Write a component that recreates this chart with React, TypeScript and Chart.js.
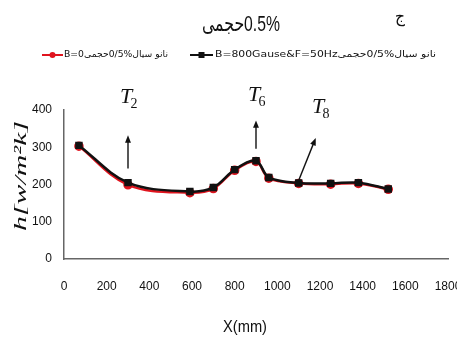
import React, { useEffect, useRef } from "react";
import { Chart, registerables } from "chart.js";

Chart.register(...registerables);

// ---------- data ----------
const positionsMm = [70, 300, 590, 700, 800, 900, 960, 1100, 1250, 1380, 1520];
const hNoField = [303, 199, 178, 189, 238, 262, 217, 203, 201, 203, 187];
const hWithField = [305, 205, 181, 192, 240, 264, 219, 204, 203, 205, 188];
const xTickValues = [0, 200, 400, 600, 800, 1000, 1200, 1400, 1600, 1800];
const yTickValues = [0, 100, 200, 300, 400];

const titleText = "0.5%حجمی";
const cornerLabel = "ج";
const legendNoField = "نانو سیال%0/5حجمیB=0";
const legendWithField = "نانو سیال%0/5حجمیB=800Gause&F=50Hz";
const xAxisTitle = "X(mm)";
const yAxisTitle = "h[w/m²k]";

// annotation labels (T_n) with arrows, in data units
const annotationNames = ["2", "6", "8"];
const annotationTextX = [300, 900, 1200];
const annotationTextY = [436, 440, 408];
const annotationFromX = [300, 900, 1100];
const annotationFromY = [243, 296, 211];
const annotationToX = [300, 900, 1180];
const annotationToY = [332, 372, 325];

const SANS = "'Liberation Sans', 'DejaVu Sans', sans-serif";
const RED = "#e0141e";
const BLACK = "#111111";

function drawFitted(
  ctx: CanvasRenderingContext2D,
  text: string,
  x: number,
  y: number,
  width: number,
  font: string,
  dir: CanvasDirection,
  align: "left" | "center"
) {
  ctx.save();
  ctx.font = font;
  ctx.direction = dir;
  ctx.textAlign = "left";
  ctx.textBaseline = "middle";
  const w = ctx.measureText(text).width || 1;
  const s = width / w;
  const left = align === "center" ? x - width / 2 : x;
  ctx.translate(left, y);
  ctx.scale(s, 1);
  ctx.fillStyle = "#111";
  ctx.fillText(text, 0, 0);
  ctx.restore();
}

function drawArrow(ctx: CanvasRenderingContext2D, x1: number, y1: number, x2: number, y2: number) {
  const ang = Math.atan2(y2 - y1, x2 - x1);
  const head = 8;
  ctx.save();
  ctx.strokeStyle = "#111";
  ctx.fillStyle = "#111";
  ctx.lineWidth = 1.4;
  ctx.beginPath();
  ctx.moveTo(x1, y1);
  ctx.lineTo(x2 - Math.cos(ang) * head * 0.8, y2 - Math.sin(ang) * head * 0.8);
  ctx.stroke();
  ctx.beginPath();
  ctx.moveTo(x2, y2);
  ctx.lineTo(x2 - Math.cos(ang - 0.38) * head, y2 - Math.sin(ang - 0.38) * head);
  ctx.lineTo(x2 - Math.cos(ang + 0.38) * head, y2 - Math.sin(ang + 0.38) * head);
  ctx.closePath();
  ctx.fill();
  ctx.restore();
}

const decorPlugin = {
  id: "decor",
  afterDraw(chart: any) {
    const ctx: CanvasRenderingContext2D = chart.ctx;
    const xs = chart.scales.x;
    const ys = chart.scales.y;

    // title and corner letter
    drawFitted(ctx, titleText, 241, 25, 78, `22px ${SANS}`, "rtl", "center");
    drawFitted(ctx, cornerLabel, 400, 17, 10, `18px 'DejaVu Sans', sans-serif`, "rtl", "center");

    // legend
    const ds = chart.data.datasets;
    const ly = 55;
    ctx.save();
    ctx.strokeStyle = ds[1].borderColor;
    ctx.fillStyle = ds[1].borderColor;
    ctx.lineWidth = 2;
    ctx.beginPath();
    ctx.moveTo(42, ly);
    ctx.lineTo(63, ly);
    ctx.stroke();
    ctx.beginPath();
    ctx.arc(52.5, ly, 3, 0, Math.PI * 2);
    ctx.fill();
    ctx.strokeStyle = ds[0].borderColor;
    ctx.fillStyle = ds[0].borderColor;
    ctx.beginPath();
    ctx.moveTo(190, ly);
    ctx.lineTo(213, ly);
    ctx.stroke();
    ctx.fillRect(198.5, ly - 3, 6, 6);
    ctx.restore();
    drawFitted(ctx, legendNoField, 64, ly, 104, `9px 'DejaVu Sans Condensed', 'DejaVu Sans', sans-serif`, "rtl", "left");
    drawFitted(ctx, legendWithField, 215, ly, 221, `9px 'DejaVu Sans Condensed', 'DejaVu Sans', sans-serif`, "rtl", "left");

    // axis titles
    drawFitted(ctx, xAxisTitle, 245, 327, 44, `17px ${SANS}`, "ltr", "center");
    ctx.save();
    ctx.translate(22, 176);
    ctx.rotate(-Math.PI / 2);
    drawFitted(ctx, yAxisTitle, 0, 0, 110, `italic 17px 'Liberation Serif', 'DejaVu Serif', serif`, "ltr", "center");
    ctx.restore();

    // annotations
    for (let i = 0; i < annotationNames.length; i++) {
      const fx = xs.getPixelForValue(annotationFromX[i]);
      const fy = ys.getPixelForValue(annotationFromY[i]);
      const tx = xs.getPixelForValue(annotationToX[i]);
      const ty = ys.getPixelForValue(annotationToY[i]);
      drawArrow(ctx, fx, fy, tx, ty);
      const lx = xs.getPixelForValue(annotationTextX[i]);
      const lyy = ys.getPixelForValue(annotationTextY[i]);
      ctx.save();
      ctx.fillStyle = "#111";
      ctx.textBaseline = "alphabetic";
      ctx.textAlign = "center";
      ctx.font = `italic 22px 'Liberation Serif', 'DejaVu Serif', serif`;
      ctx.fillText("T", lx - 2, lyy + 6);
      ctx.font = `14px 'Liberation Serif', 'DejaVu Serif', serif`;
      ctx.fillText(annotationNames[i], lx + 6, lyy + 11);
      ctx.restore();
    }
  },
};

export default function App() {
  const ref = useRef<HTMLCanvasElement | null>(null);

  useEffect(() => {
    if (!ref.current) return;
    document.body.style.margin = "0";
    document.body.style.overflow = "hidden";
    const chart = new Chart(ref.current, {
      type: "line",
      data: {
        datasets: [
          {
            label: legendWithField,
            data: positionsMm.map((x, i) => ({ x, y: hWithField[i] })),
            borderColor: BLACK,
            backgroundColor: BLACK,
            borderWidth: 2.5,
            pointStyle: "rect",
            pointRadius: 3.5,
            tension: 0.35,
          },
          {
            label: legendNoField,
            data: positionsMm.map((x, i) => ({ x, y: hNoField[i] })),
            borderColor: RED,
            backgroundColor: RED,
            borderWidth: 2.5,
            pointStyle: "circle",
            pointRadius: 3.5,
            tension: 0.35,
          },
        ],
      },
      options: {
        responsive: false,
        animation: false,
        layout: { padding: { left: 0, top: 110, right: 42, bottom: 0 } },
        plugins: {
          legend: { display: false },
          title: { display: false },
          tooltip: { enabled: false },
        },
        scales: {
          x: {
            type: "linear",
            min: 0,
            max: 1800,
            afterBuildTicks: (s: any) => {
              s.ticks = xTickValues.map((v) => ({ value: v }));
            },
            afterFit: (s: any) => {
              s.height = 78;
            },
            grid: { display: false, drawTicks: false },
            border: { display: true, color: "#666", width: 1.5 },
            ticks: {
              padding: 20,
              color: "#111",
              maxRotation: 0,
              autoSkip: false,
              font: { family: SANS, size: 12 },
              callback: (v: any) => String(v),
            },
          },
          y: {
            type: "linear",
            min: 0,
            max: 400,
            afterBuildTicks: (s: any) => {
              s.ticks = yTickValues.map((v) => ({ value: v }));
            },
            afterFit: (s: any) => {
              s.width = 64;
            },
            grid: { display: false, drawTicks: false },
            border: { display: true, color: "#666", width: 1.5 },
            ticks: {
              padding: 12,
              color: "#111",
              font: { family: SANS, size: 12 },
              callback: (v: any) => String(v),
            },
          },
        },
      },
      plugins: [decorPlugin],
    } as any);
    return () => chart.destroy();
  }, []);

  return (
    <div style={{ position: "fixed", left: 0, top: 0, width: 457, height: 337, overflow: "hidden", background: "#fff" }}>
      <canvas ref={ref} width={490} height={337} style={{ display: "block" }} />
    </div>
  );
}
